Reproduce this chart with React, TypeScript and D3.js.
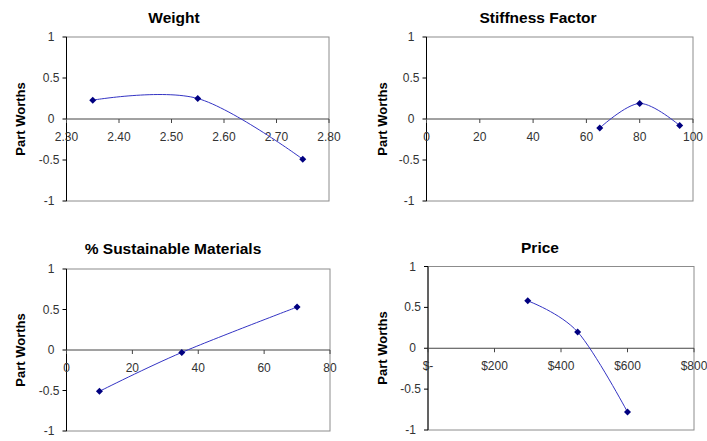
import React from "react";
import * as d3 from "d3";

const weightX = [2.35, 2.55, 2.75];
const weightY = [0.23, 0.25, -0.49];
const weightTicks = [2.3, 2.4, 2.5, 2.6, 2.7, 2.8];

const stiffX = [65, 80, 95];
const stiffY = [-0.11, 0.19, -0.08];
const stiffTicks = [0, 20, 40, 60, 80, 100];

const sustX = [10, 35, 70];
const sustY = [-0.51, -0.03, 0.53];
const sustTicks = [0, 20, 40, 60, 80];

const priceX = [300, 450, 600];
const priceY = [0.58, 0.2, -0.78];
const priceTicks = [0, 200, 400, 600, 800];

const yTicks = [-1, -0.5, 0, 0.5, 1];

type PanelProps = {
  title: string;
  xs: number[];
  ys: number[];
  xTicks: number[];
  fmt: (v: number) => string;
  box: [number, number, number, number];
  titlePos: [number, number];
  yLabelPos: [number, number];
};

const FONT = "Liberation Sans, Arial, sans-serif";

function Panel({ title, xs, ys, xTicks, fmt, box, titlePos, yLabelPos }: PanelProps) {
  const [x0, x1, y0, y1] = box;
  const xScale = d3.scaleLinear().domain([xTicks[0], xTicks[xTicks.length - 1]]).range([x0, x1]);
  const yScale = d3.scaleLinear().domain([-1, 1]).range([y1, y0]);
  const pts: [number, number][] = xs.map((x, i) => [xScale(x), yScale(ys[i])]);
  const line = d3.line().curve(d3.curveCardinal.tension(0))(pts) || "";
  const zy = yScale(0);
  return (
    <g>
      <text x={titlePos[0]} y={titlePos[1] + 5.5} textAnchor="middle" fontFamily={FONT} fontWeight="bold" fontSize={15.5} fill="#000">
        {title}
      </text>
      <text
        transform={`translate(${yLabelPos[0] + 4.5},${yLabelPos[1]}) rotate(-90)`}
        textAnchor="middle"
        fontFamily={FONT}
        fontWeight="bold"
        fontSize={13}
        fill="#000"
      >
        Part Worths
      </text>
      <rect x={x0} y={y0} width={x1 - x0} height={y1 - y0} fill="#fff" stroke="#8c8c8c" strokeWidth={1} />
      <line x1={x0} x2={x0} y1={y0} y2={y1} stroke="#000" strokeWidth={1} />
      {yTicks.map((t) => (
        <g key={t}>
          <line x1={x0 - 4} x2={x0} y1={yScale(t)} y2={yScale(t)} stroke="#000" />
          <text
            x={x0 - (Number.isInteger(t) ? 12 : 7)}
            y={yScale(t) + 4}
            textAnchor="end"
            fontFamily={FONT}
            fontSize={12}
            fill="#333"
          >
            {t}
          </text>
        </g>
      ))}
      <line x1={x0} x2={x1} y1={zy} y2={zy} stroke="#444" strokeWidth={1} />
      {xTicks.map((t) => (
        <g key={t}>
          <line x1={xScale(t)} x2={xScale(t)} y1={zy} y2={zy + 4} stroke="#444" />
          <text x={xScale(t)} y={zy + 22} textAnchor="middle" fontFamily={FONT} fontSize={12} fill="#333">
            {fmt(t)}
          </text>
        </g>
      ))}
      <path d={line} fill="none" stroke="#3434c4" strokeWidth={1} />
      {pts.map(([px, py], i) => (
        <path key={i} d={`M${px},${py - 3.5}L${px + 3.5},${py}L${px},${py + 3.5}L${px - 3.5},${py}Z`} fill="#000080" />
      ))}
    </g>
  );
}

export default function App() {
  return (
    <svg width={707} height={441} style={{ position: "absolute", left: 0, top: 0, background: "#fff" }}>
      <rect width={707} height={441} fill="#fff" />
      <Panel
        title="Weight"
        xs={weightX}
        ys={weightY}
        xTicks={weightTicks}
        fmt={(v) => v.toFixed(2)}
        box={[66.5, 329, 37, 201]}
        titlePos={[174, 17]}
        yLabelPos={[20, 119]}
      />
      <Panel
        title="Stiffness Factor"
        xs={stiffX}
        ys={stiffY}
        xTicks={stiffTicks}
        fmt={(v) => String(v)}
        box={[426.5, 693, 37, 201]}
        titlePos={[538, 17]}
        yLabelPos={[382, 119]}
      />
      <Panel
        title="% Sustainable Materials"
        xs={sustX}
        ys={sustY}
        xTicks={sustTicks}
        fmt={(v) => String(v)}
        box={[66.5, 330, 269, 431]}
        titlePos={[173, 248]}
        yLabelPos={[20, 350]}
      />
      <Panel
        title="Price"
        xs={priceX}
        ys={priceY}
        xTicks={priceTicks}
        fmt={(v) => (v === 0 ? "$-" : `$${v}`)}
        box={[428, 694, 266.5, 430]}
        titlePos={[540, 247]}
        yLabelPos={[382, 348]}
      />
    </svg>
  );
}
